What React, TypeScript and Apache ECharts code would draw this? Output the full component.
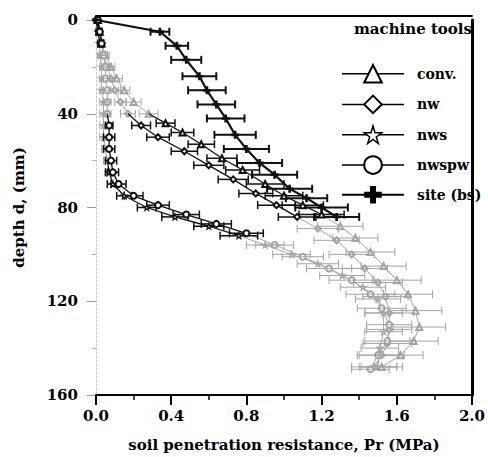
import React, { useEffect, useRef } from "react";
import * as echarts from "echarts";

// ---- tick labels ----
const xTickLabels = ["0.0", "0.4", "0.8", "1.2", "1.6", "2.0"];
const yTickLabels = ["0", "40", "80", "120", "160"];

// ---- series (Pr in MPa, depth in mm, half error bar in MPa) ----
const convPr = [0.01, 0.02, 0.03, 0.05, 0.08, 0.11, 0.15, 0.2, 0.28, 0.37, 0.46, 0.56, 0.67, 0.78, 0.9, 1.0, 1.1, 1.2, 1.3, 1.38, 1.46, 1.53, 1.6, 1.66, 1.7, 1.72, 1.69, 1.62, 1.52];
const convDepth = [0, 5, 10, 15, 20, 25, 30, 35, 40, 44, 48, 53, 59, 64, 70, 75, 79, 83, 88, 93, 99, 105, 111, 117, 124, 131, 137, 143, 148];
const convErr = [0, 0.01, 0.01, 0.02, 0.02, 0.03, 0.03, 0.04, 0.05, 0.05, 0.06, 0.07, 0.08, 0.09, 0.1, 0.1, 0.11, 0.12, 0.12, 0.12, 0.13, 0.12, 0.13, 0.13, 0.14, 0.14, 0.13, 0.12, 0.11];

const nwPr = [0.0, 0.02, 0.03, 0.04, 0.06, 0.08, 0.1, 0.13, 0.17, 0.24, 0.33, 0.47, 0.6, 0.73, 0.85, 0.96, 1.07, 1.18, 1.28, 1.36, 1.43, 1.5, 1.54, 1.56, 1.56, 1.55, 1.52, 1.48];
const nwDepth = [0, 5, 10, 15, 20, 25, 30, 35, 40, 45, 50, 56, 62, 68, 74, 79, 84, 89, 94, 100, 106, 112, 118, 125, 132, 138, 143, 148];
const nwErr = [0, 0.01, 0.01, 0.02, 0.02, 0.02, 0.03, 0.03, 0.04, 0.05, 0.06, 0.07, 0.08, 0.08, 0.09, 0.1, 0.1, 0.11, 0.12, 0.12, 0.12, 0.13, 0.12, 0.13, 0.12, 0.13, 0.12, 0.12];

const nwsPr = [0.0, 0.01, 0.02, 0.02, 0.03, 0.03, 0.03, 0.04, 0.04, 0.04, 0.04, 0.05, 0.06, 0.07, 0.09, 0.15, 0.27, 0.42, 0.6, 0.76, 0.9, 1.04, 1.18, 1.31, 1.42, 1.5, 1.53, 1.53, 1.51, 1.5];
const nwsDepth = [0, 5, 10, 15, 20, 25, 30, 35, 40, 45, 50, 55, 60, 65, 70, 75, 80, 84, 88, 92, 96, 100, 104, 109, 114, 119, 125, 133, 140, 148];
const nwsErr = [0, 0.01, 0.01, 0.01, 0.01, 0.01, 0.01, 0.02, 0.02, 0.02, 0.02, 0.02, 0.02, 0.02, 0.03, 0.04, 0.05, 0.07, 0.08, 0.1, 0.1, 0.1, 0.11, 0.12, 0.12, 0.12, 0.1, 0.1, 0.1, 0.1];

const nwspwPr = [0.01, 0.02, 0.03, 0.04, 0.05, 0.05, 0.06, 0.06, 0.06, 0.07, 0.07, 0.07, 0.08, 0.09, 0.12, 0.2, 0.33, 0.48, 0.64, 0.8, 0.95, 1.1, 1.24, 1.36, 1.46, 1.52, 1.56, 1.55, 1.5, 1.46];
const nwspwDepth = [0, 5, 10, 15, 20, 25, 30, 35, 40, 45, 50, 55, 60, 65, 70, 75, 79, 83, 87, 91, 96, 101, 106, 111, 117, 123, 130, 137, 143, 149];
const nwspwErr = [0, 0.01, 0.01, 0.02, 0.02, 0.02, 0.02, 0.02, 0.02, 0.02, 0.03, 0.03, 0.03, 0.03, 0.04, 0.05, 0.06, 0.07, 0.08, 0.09, 0.1, 0.11, 0.12, 0.12, 0.13, 0.13, 0.12, 0.12, 0.11, 0.1];

const sitePr = [0, 0.34, 0.43, 0.48, 0.55, 0.59, 0.64, 0.69, 0.74, 0.8, 0.87, 0.95, 1.03, 1.12, 1.2, 1.28];
const siteDepth = [0, 5, 11, 17, 24, 30, 36, 42, 49, 55, 61, 66, 72, 76, 80, 84];
const siteErr = [0, 0.05, 0.06, 0.08, 0.09, 0.1, 0.1, 0.1, 0.11, 0.12, 0.12, 0.12, 0.12, 0.11, 0.14, 0.12];

const legendTitle = "machine tools";
const seriesNames = ["conv.", "nw", "nws", "nwspw", "site (bs)"];

// ---- styling ----
const FONT = "DejaVu Serif";
const BLACK = "#111";
const GRAY = "#a4a4a4";
const STAR = "path://M50,0 L61,35 L98,35 L68,57 L79,91 L50,70 L21,91 L32,57 L2,35 L39,35 Z";
const PLUS = "path://M33,0 H67 V33 H100 V67 H67 V100 H33 V67 H0 V33 H33 Z";

type Def = { name: string; pr: number[]; depth: number[]; err: number[]; symbol: string; filled: boolean; width: number };

const defs: Def[] = [
  { name: seriesNames[0], pr: convPr, depth: convDepth, err: convErr, symbol: "emptyTriangle", filled: false, width: 1.3 },
  { name: seriesNames[1], pr: nwPr, depth: nwDepth, err: nwErr, symbol: "emptyDiamond", filled: false, width: 1.3 },
  { name: seriesNames[2], pr: nwsPr, depth: nwsDepth, err: nwsErr, symbol: STAR, filled: false, width: 1.3 },
  { name: seriesNames[3], pr: nwspwPr, depth: nwspwDepth, err: nwspwErr, symbol: "emptyCircle", filled: false, width: 1.3 },
  { name: seriesNames[4], pr: sitePr, depth: siteDepth, err: siteErr, symbol: PLUS, filled: true, width: 2.2 },
];

// scan fading: parts of the profile print faint
function faded(x: number, y: number) {
  return (y >= 12 && (x < 0.07 || (x < 0.3 && y < 45))) || (y > 86 && x > 0.88);
}

function buildSeries() {
  const out: any[] = [];
  defs.forEach((d) => {
    const pts = d.pr.map((x, i) => [x, d.depth[i]]);
    const pieces: { tone: string; data: any[] }[] = [];
    let cur: { tone: string; data: any[] } | null = null;
    pts.forEach((p) => {
      const tone = faded(p[0], p[1]) ? GRAY : BLACK;
      if (!cur || cur.tone !== tone) {
        const prev = cur ? cur.data[cur.data.length - 1] : null;
        const prevVal = prev ? (Array.isArray(prev) ? prev : prev.value) : null;
        cur = { tone, data: prevVal ? [{ value: prevVal, symbol: "none" }, p] : [p] };
        pieces.push(cur);
      } else cur.data.push(p);
    });
    pieces.forEach((pc) => {
      const isGray = pc.tone === GRAY;
      out.push({
        type: "line",
        name: d.name,
        data: pc.data,
        symbol: d.symbol,
        symbolSize: d.filled ? 8 : 6,
        showSymbol: true,
        lineStyle: { color: pc.tone, width: isGray ? 1 : d.width },
        itemStyle: d.symbol === STAR
          ? { color: "#fff", borderColor: pc.tone, borderWidth: 1.2 }
          : { color: pc.tone },
        z: isGray ? 2 : 4,
        silent: true,
      });
    });
    // error bars
    out.push({
      type: "custom",
      name: d.name + " err",
      data: pts.map((p, i) => [p[0], p[1], d.err[i]]),
      encode: { x: 0, y: 1 },
      z: 3,
      silent: true,
      renderItem: (params: any, api: any) => {
        const x = api.value(0);
        const y = api.value(1);
        const e = api.value(2);
        if (!e) return { type: "group", children: [] };
        const c = faded(x, y) ? GRAY : BLACK;
        const lw = c === GRAY ? 1 : (d.filled ? 2 : 1.5);
        const a = api.coord([x - e, y]);
        const b = api.coord([x + e, y]);
        const h = 4;
        const style = { stroke: c, lineWidth: lw };
        return {
          type: "group",
          children: [
            { type: "line", shape: { x1: a[0], y1: a[1], x2: b[0], y2: b[1] }, style },
            { type: "line", shape: { x1: a[0], y1: a[1] - h, x2: a[0], y2: a[1] + h }, style },
            { type: "line", shape: { x1: b[0], y1: b[1] - h, x2: b[0], y2: b[1] + h }, style },
          ],
        };
      },
    });
  });
  return out;
}

export default function App() {
  const ref = useRef<HTMLDivElement>(null);
  useEffect(() => {
    document.body.style.margin = "0";
    const chart = echarts.init(ref.current!, null, { renderer: "svg" });
    const labelStyle = { fontFamily: FONT, fontWeight: "bold" as const, fontSize: 15, color: "#000" };
    chart.setOption({
      animation: false,
      backgroundColor: "#fff",
      title: {
        text: legendTitle,
        right: 16,
        top: 21,
        padding: 0,
        textStyle: { ...labelStyle, fontSize: 15 },
      },
      legend: {
        orient: "vertical",
        left: 336,
        top: 59,
        itemWidth: 62,
        itemHeight: 22,
        itemGap: 11,
        selectedMode: false,
        textStyle: { ...labelStyle, fontSize: 14, padding: [0, 0, 0, 8] },
        data: defs.map((d) => ({
          name: d.name,
          itemStyle: d.symbol === STAR
            ? { color: "#fff", borderColor: "#000", borderWidth: 1.5 }
            : { color: "#000" },
          lineStyle: { color: "#000", width: d.filled ? 2 : 1.5 },
        })),
      },
      grid: { left: 96, right: 13, top: 20, bottom: 58, containLabel: false },
      xAxis: [
        {
          type: "value",
          min: 0,
          max: 2,
          interval: 0.4,
          position: "bottom",
          name: "soil penetration resistance, Pr (MPa)",
          nameLocation: "middle",
          nameGap: 42,
          nameTextStyle: { ...labelStyle, fontSize: 15 },
          axisLine: { show: true, onZero: false, lineStyle: { color: "#000", width: 2 } },
          axisTick: { show: true, length: 10, lineStyle: { color: "#000", width: 2 } },
          minorTick: { show: true, splitNumber: 2, length: 5, lineStyle: { color: "#000", width: 1.5 } },
          axisLabel: { ...labelStyle, margin: 13, formatter: (v: number) => xTickLabels[Math.round(v / 0.4)] },
          splitLine: { show: false },
        },
        {
          type: "value",
          min: 0,
          max: 2,
          position: "top",
          offset: 4,
          axisLine: { show: true, onZero: false, lineStyle: { color: "#000", width: 2 } },
          axisTick: { show: false },
          axisLabel: { show: false },
          splitLine: { show: false },
        },
      ],
      yAxis: [
        {
          type: "value",
          inverse: true,
          min: 0,
          max: 160,
          interval: 40,
          position: "left",
          name: "depth d, (mm)",
          nameLocation: "middle",
          nameGap: 70,
          nameTextStyle: { ...labelStyle, fontSize: 15 },
          axisLine: { show: true, onZero: false, lineStyle: { color: "#c4c4c4", width: 1, type: [2, 2] } },
          axisTick: { show: true, length: 9, lineStyle: { color: "#9a9a9a", width: 1 } },
          minorTick: { show: true, splitNumber: 2, length: 4, lineStyle: { color: "#b0b0b0", width: 1 } },
          axisLabel: { ...labelStyle, margin: 18, formatter: (v: number) => yTickLabels[Math.round(v / 40)] },
          splitLine: { show: false },
        },
        {
          type: "value",
          inverse: true,
          min: 0,
          max: 160,
          position: "right",
          axisLine: { show: true, onZero: false, lineStyle: { color: "#000", width: 3 } },
          axisTick: { show: false },
          axisLabel: { show: false },
          splitLine: { show: false },
        },
      ],
      series: buildSeries(),
    });
    return () => chart.dispose();
  }, []);
  return <div ref={ref} style={{ position: "fixed", left: 0, top: 0, width: 488, height: 457 }} />;
}
